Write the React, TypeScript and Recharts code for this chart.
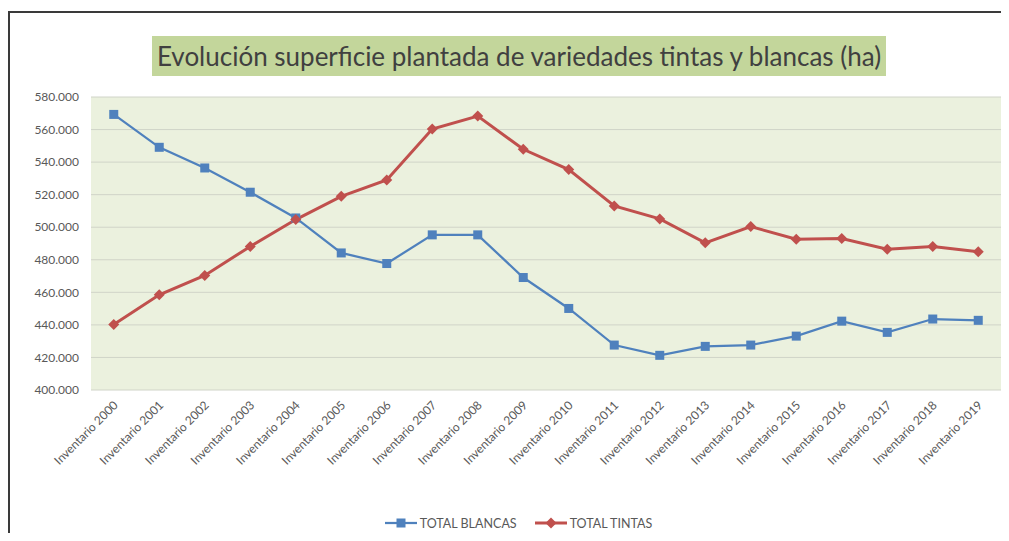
import { CartesianGrid, Legend, Line, LineChart, XAxis, YAxis } from 'recharts';

const categories = [
	'Inventario 2000', 'Inventario 2001', 'Inventario 2002', 'Inventario 2003', 'Inventario 2004',
	'Inventario 2005', 'Inventario 2006', 'Inventario 2007', 'Inventario 2008', 'Inventario 2009',
	'Inventario 2010', 'Inventario 2011', 'Inventario 2012', 'Inventario 2013', 'Inventario 2014',
	'Inventario 2015', 'Inventario 2016', 'Inventario 2017', 'Inventario 2018', 'Inventario 2019',
];

const totalBlancas = [
	569300, 549100, 536400, 521500, 505700, 484200, 477700, 495300, 495300, 469100,
	450100, 427600, 421300, 426800, 427600, 433100, 442300, 435400, 443600, 442800,
];

const totalTintas = [
	440300, 458500, 470400, 488200, 504700, 519000, 529000, 560300, 568300, 547900,
	535400, 513100, 505100, 490400, 500400, 492600, 493000, 486500, 488200, 484900,
];

const yTicks = [400000, 420000, 440000, 460000, 480000, 500000, 520000, 540000, 560000, 580000];

const BLUE = '#4F81BD';
const RED = '#C0504D';
const FONT = 'Lato, "Open Sans", sans-serif';

const data = categories.map((name, i) => ({
	name,
	blancas: totalBlancas[i],
	tintas: totalTintas[i],
}));

const fmt = (v: number) => String(v).replace(/\B(?=(\d{3})+(?!\d))/g, '.');

const SquareDot = (props: any) => {
	const { cx, cy, index } = props;
	if (cx == null || cy == null) return null;
	return <rect key={`b${index}`} x={cx - 4.5} y={cy - 4.5} width={9} height={9} fill={BLUE} />;
};

const DiamondDot = (props: any) => {
	const { cx, cy, index } = props;
	if (cx == null || cy == null) return null;
	const r = 5.5;
	return (
		<polygon
			key={`t${index}`}
			points={`${cx},${cy - r} ${cx + r},${cy} ${cx},${cy + r} ${cx - r},${cy}`}
			fill={RED}
		/>
	);
};

const XTick = (props: any) => {
	const { x, y, payload } = props;
	return (
		<g transform={`translate(${x + 5},${y + 8})`}>
			<text
				transform='rotate(-45)'
				textAnchor='end'
				fontSize={12}
				fill='#595959'
				fontFamily={FONT}
			>
				{payload.value}
			</text>
		</g>
	);
};

const LegendContent = () => (
	<div
		style={{
			display: 'flex',
			justifyContent: 'center',
			alignItems: 'center',
			height: 24,
			paddingLeft: 36,
			fontFamily: FONT,
			fontSize: 12.5,
			color: '#595959',
		}}
	>
		<svg width={32} height={12} style={{ marginRight: 3 }}>
			<line x1={0} y1={6} x2={32} y2={6} stroke={BLUE} strokeWidth={2.25} />
			<rect x={11.5} y={1.5} width={9} height={9} fill={BLUE} />
		</svg>
		<span style={{ marginRight: 18 }}>TOTAL BLANCAS</span>
		<svg width={32} height={12} style={{ marginRight: 3 }}>
			<line x1={0} y1={6} x2={32} y2={6} stroke={RED} strokeWidth={3} />
			<polygon points='16,0.5 21.5,6 16,11.5 10.5,6' fill={RED} />
		</svg>
		<span>TOTAL TINTAS</span>
	</div>
);

const App = () => {
	return (
		<div
			style={{
				position: 'relative',
				width: 1009,
				height: 541,
				margin: -8,
				overflow: 'hidden',
				background: '#fff',
				fontFamily: FONT,
			}}
		>
			{/* frame: only top and left edges are visible in the crop */}
			<div style={{ position: 'absolute', left: 8, top: 11, width: 1000, height: 2, background: '#3a3a3a' }} />
			<div style={{ position: 'absolute', left: 8, top: 11, width: 2, height: 530, background: '#3a3a3a' }} />
			<div
				style={{
					position: 'absolute',
					left: 152,
					top: 36,
					width: 734,
					height: 40,
					background: '#C3D69B',
					color: '#404040',
					fontSize: 26,
					lineHeight: '40px',
					textAlign: 'center',
					whiteSpace: 'nowrap',
				}}
			>
				Evolución superficie plantada de variedades tintas y blancas (ha)
			</div>
			<div style={{ position: 'absolute', left: 0, top: 0 }}>
				<LineChart
					width={1009}
					height={541}
					data={data}
					margin={{ top: 97, right: 8, left: 0, bottom: 17 }}
				>
					<CartesianGrid vertical={false} stroke='#D0D4C8' fill='#EBF1DE' />
					<XAxis
						dataKey='name'
						height={110}
						interval={0}
						padding={{ left: 22.75, right: 22.75 }}
						tick={<XTick />}
						tickLine={false}
						axisLine={false}
					/>
					<YAxis
						width={91}
						domain={[400000, 580000]}
						ticks={yTicks}
						tickFormatter={fmt}
						tickLine={false}
						axisLine={false}
						tickMargin={6}
						tick={{ fontSize: 12, fill: '#595959', fontFamily: FONT }}
					/>
					<Legend
						verticalAlign='bottom'
						content={<LegendContent />}
						wrapperStyle={{ bottom: 6 }}
					/>
					<Line
						type='linear'
						dataKey='blancas'
						name='TOTAL BLANCAS'
						stroke={BLUE}
						strokeWidth={2.25}
						dot={<SquareDot />}
						activeDot={false}
						isAnimationActive={false}
					/>
					<Line
						type='linear'
						dataKey='tintas'
						name='TOTAL TINTAS'
						stroke={RED}
						strokeWidth={3}
						dot={<DiamondDot />}
						activeDot={false}
						isAnimationActive={false}
					/>
				</LineChart>
			</div>
		</div>
	);
};

export default App;
